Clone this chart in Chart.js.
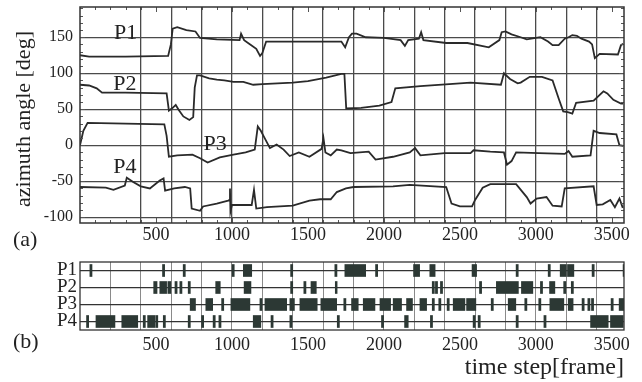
<!DOCTYPE html>
<html>
<head>
<meta charset="utf-8">
<script src="https://cdn.jsdelivr.net/npm/chart.js@4.4.1/dist/chart.umd.min.js"></script>
<style>
  html, body { margin: 0; padding: 0; background: #fff; }
  #wrap { position: relative; width: 642px; height: 382px; }
  canvas { position: absolute; left: 0; }
  #angleChart { top: 0; }
  #eventChart { top: 250px; }
  .tag { position: absolute; font: 22px "Liberation Serif", serif; color: #222; }
</style>
</head>
<body>
<div id="wrap">
  <canvas id="angleChart" width="642" height="250"></canvas>
  <canvas id="eventChart" width="642" height="132"></canvas>
  <div class="tag" style="left:13px; top:226px">(a)</div>
  <div class="tag" style="left:13px; top:328px">(b)</div>
</div>
<script>
// (a) azimuth angle of each person, [frame, deg]
const p1Angle = [[0,125],[60,123],[300,123],[580,124],[598,140],[610,162],[640,164],[700,160],[760,158],[790,149],[900,147],[1050,146],[1060,155],[1080,146],[1120,140],[1160,134],[1185,124],[1200,128],[1225,144],[1400,144],[1600,144],[1720,144],[1745,136],[1770,150],[1790,155],[1820,155],[1880,150],[2000,149],[2110,146],[2138,138],[2160,146],[2230,148],[2245,157],[2260,146],[2410,142],[2550,142],[2690,136],[2760,146],[2775,157],[2800,158],[2840,154],[2900,150],[2940,147],[3000,149],[3030,150],[3080,144],[3110,139],[3150,139],[3190,148],[3215,150],[3240,153],[3270,152],[3300,148],[3350,144],[3370,140],[3388,121],[3420,127],[3540,126],[3560,139],[3575,141]];
const p2Angle = [[0,84],[60,83],[110,79],[145,73],[300,73],[570,72],[585,48],[610,52],[630,56],[650,49],[680,40],[720,35],[745,39],[755,80],[770,97],[790,97],[850,93],[900,91],[950,90],[1010,88],[1075,88],[1140,84],[1200,85],[1300,86],[1400,87],[1500,89],[1620,94],[1720,99],[1740,99],[1752,51],[1850,52],[1970,55],[2050,60],[2075,79],[2240,82],[2430,85],[2570,87],[2770,84],[2790,100],[2830,92],[2880,86],[2900,87],[2960,95],[3040,95],[3110,90],[3150,65],[3180,47],[3210,46],[3240,44],[3265,59],[3380,62],[3445,75],[3470,72],[3510,63],[3560,58],[3575,58]];
const p3Angle = [[0,0],[22,20],[50,31],[300,30],[555,29],[570,13],[585,-16],[640,-14],[740,-13],[790,-18],[840,-24],[920,-17],[1010,-13],[1090,-10],[1150,-6],[1170,26],[1190,20],[1210,12],[1250,-4],[1294,1],[1340,-6],[1380,-15],[1440,-10],[1510,-16],[1590,-5],[1602,10],[1615,-10],[1650,-14],[1690,-6],[1720,-7],[1780,-11],[1900,-9],[1945,-20],[2060,-16],[2170,-10],[2205,-4],[2240,-14],[2400,-11],[2570,-11],[2590,-7],[2700,-9],[2790,-10],[2810,-27],[2840,-22],[2870,-10],[3020,-11],[3190,-12],[3215,-8],[3240,-16],[3360,-14],[3380,20],[3420,17],[3530,15],[3550,0],[3575,-1]];
const p4Angle = [[0,-58],[170,-59],[220,-62],[295,-56],[308,-45],[350,-51],[400,-57],[460,-60],[525,-49],[550,-46],[560,-63],[620,-60],[690,-58],[725,-60],[735,-88],[790,-91],[810,-85],[900,-81],[975,-77],[985,-76],[987,-60],[990,-92],[1000,-83],[1130,-83],[1145,-62],[1160,-88],[1230,-86],[1400,-84],[1510,-77],[1580,-75],[1650,-75],[1690,-65],[1750,-60],[1800,-58],[2060,-57],[2170,-55],[2410,-58],[2445,-81],[2500,-85],[2580,-85],[2600,-76],[2650,-59],[2700,-54],[2870,-54],[2940,-72],[2965,-81],[3005,-74],[3070,-72],[3110,-84],[3170,-85],[3190,-60],[3380,-57],[3400,-83],[3440,-82],[3490,-76],[3520,-86],[3550,-74],[3572,-87]];

// (b) detected events: single frames and [start, end] spans
const rows = ['P1', 'P2', 'P3', 'P4'];
const p1Ticks = [72, 550, 686, 1008, 1393, 1684, 1952, 2877, 3088, 3377, 3581];
const p1Spans = [[1075,1130],[1743,1880],[2195,2235],[2302,2337],[2580,2610],[3160,3200],[3208,3250]];
const p2Ticks = [632, 664, 719, 1393, 1480, 2325, 2346, 2379, 2636, 3037, 3190, 3240];
const p2Spans = [[485,507],[525,570],[578,598],[893,923],[1080,1125],[1520,1555],[1680,1692],[2740,2885],[2905,2980],[3090,3125]];
const p3Ticks = [939, 1191, 1388, 1404, 1743, 2325, 2368, 2423, 2713, 2934, 3026, 3311, 3349, 3373, 3502];
const p3Spans = [[725,760],[828,873],[993,1118],[1217,1360],[1447,1561],[1585,1689],[1787,1831],[1864,1941],[1974,2044],[2061,2116],[2149,2188],[2237,2281],[2456,2533],[2544,2605],[2818,2868],[3092,3184],[3213,3245],[3548,3582]];
const p4Ticks = [50, 423, 555, 719, 807, 883, 921, 1264, 1388, 1700, 1991, 2313, 2594, 2627, 2877, 3060];
const p4Spans = [[105,230],[275,380],[445,495],[500,512],[1140,1190],[2136,2160],[3360,3476],[3491,3575]];

const serif = '"Liberation Serif", "DejaVu Serif", serif';
const ink = '#2a2a2a';

function boxFrame(width) {
  return {
    id: 'boxFrame',
    afterDraw(chart) {
      const { ctx, chartArea: a } = chart;
      ctx.save();
      ctx.strokeStyle = '#333';
      ctx.lineWidth = width;
      ctx.strokeRect(a.left, a.top, a.right - a.left, a.bottom - a.top);
      ctx.restore();
    }
  };
}

// small inward ticks along the border of panel (a)
const minorTicks = {
  id: 'minorTicks',
  afterDraw(chart) {
    const { ctx, chartArea: a, scales: { x, y } } = chart;
    ctx.save();
    ctx.strokeStyle = '#555';
    ctx.lineWidth = 1;
    ctx.beginPath();
    for (let v = -100; v <= 190; v += 10) {
      const py = Math.round(y.getPixelForValue(v)) + 0.5;
      const len = v % 50 === 0 ? 5 : 3;
      ctx.moveTo(a.left, py); ctx.lineTo(a.left + len, py);
      ctx.moveTo(a.right, py); ctx.lineTo(a.right - len, py);
    }
    for (let f = 100; f < 3580; f += 100) {
      const px = Math.round(x.getPixelForValue(f)) + 0.5;
      const len = f % 500 === 0 ? 5 : 3;
      ctx.moveTo(px, a.top); ctx.lineTo(px, a.top + len);
      ctx.moveTo(px, a.bottom); ctx.lineTo(px, a.bottom - len);
    }
    ctx.stroke();
    ctx.restore();
  }
};

// person names beside the curves, plus the rotated y title
const nameTags = {
  id: 'nameTags',
  afterDatasetsDraw(chart) {
    const { ctx, chartArea: a, scales: { x, y } } = chart;
    ctx.save();
    ctx.font = '22px ' + serif;
    ctx.fillStyle = '#222';
    ctx.textAlign = 'center';
    ctx.textBaseline = 'middle';
    chart.data.datasets.forEach(ds => {
      ctx.fillText(ds.label, x.getPixelForValue(ds.tagAt[0]), y.getPixelForValue(ds.tagAt[1]));
    });
    ctx.translate(24, (a.top + a.bottom) / 2 + 4);
    ctx.rotate(-Math.PI / 2);
    ctx.fillText('azimuth angle [deg]', 0, 0);
    ctx.restore();
  }
};

function line(label, data, tagAt) {
  return { label, data, tagAt, borderColor: ink, borderWidth: 1.8, pointRadius: 0, tension: 0, fill: false };
}

new Chart(document.getElementById('angleChart'), {
  type: 'line',
  data: {
    datasets: [
      line('P1', p1Angle, [300, 155]),
      line('P2', p2Angle, [295, 85]),
      line('P3', p3Angle, [890, 1]),
      line('P4', p4Angle, [295, -31])
    ]
  },
  options: {
    responsive: false,
    animation: false,
    events: [],
    layout: { padding: { top: 7, right: 18, left: 0, bottom: 0 } },
    plugins: { legend: { display: false }, tooltip: { enabled: false } },
    scales: {
      x: {
        type: 'linear', min: 0, max: 3580,
        afterBuildTicks: s => { s.ticks = []; for (let v = 100; v <= 3500; v += 100) s.ticks.push({ value: v }); },
        afterFit: s => { s.height = 27; s.paddingLeft = 0; s.paddingRight = 0; },
        ticks: { autoSkip: false, maxRotation: 0, padding: 1, color: '#222', font: { family: serif, size: 18 },
                 callback: v => (v % 500 === 0 ? v : '') },
        grid: { drawTicks: false, lineWidth: 1.3,
                color: c => (c.tick && c.tick.value % 200 === 0 && c.tick.value >= 400 ? '#4a4a4a' : 'rgba(0,0,0,0)') },
        border: { display: false }
      },
      y: {
        min: -108, max: 192,
        afterBuildTicks: s => { s.ticks = [-100, -50, 0, 50, 100, 150].map(v => ({ value: v })); },
        afterFit: s => { s.width = 80; s.paddingTop = 0; s.paddingBottom = 0; },
        ticks: { padding: 7, color: '#222', font: { family: serif, size: 16 } },
        grid: { drawTicks: false, lineWidth: 1.3, color: '#4a4a4a' },
        border: { display: false }
      }
    }
  },
  plugins: [minorTicks, nameTags, boxFrame(1.5)]
});

function rowEvents(row, ticks, spans) {
  return ticks.map(f => ({ y: row, x: [f - 7, f + 7] }))
    .concat(spans.map(s => ({ y: row, x: s })));
}

new Chart(document.getElementById('eventChart'), {
  type: 'bar',
  data: {
    labels: rows,
    datasets: [{
      data: [].concat(
        rowEvents('P1', p1Ticks, p1Spans),
        rowEvents('P2', p2Ticks, p2Spans),
        rowEvents('P3', p3Ticks, p3Spans),
        rowEvents('P4', p4Ticks, p4Spans)
      ),
      backgroundColor: '#2c3834',
      borderWidth: 0,
      barThickness: 12
    }]
  },
  options: {
    indexAxis: 'y',
    responsive: false,
    animation: false,
    events: [],
    layout: { padding: { top: 12, right: 18, left: 0, bottom: 0 } },
    plugins: { legend: { display: false }, tooltip: { enabled: false } },
    scales: {
      x: {
        type: 'linear', min: 0, max: 3580,
        afterBuildTicks: s => { s.ticks = []; for (let v = 100; v <= 3500; v += 100) s.ticks.push({ value: v }); },
        afterFit: s => { s.height = 52; s.paddingLeft = 0; s.paddingRight = 0; },
        ticks: { autoSkip: false, maxRotation: 0, padding: 4, color: '#222', font: { family: serif, size: 18 },
                 callback: v => (v % 500 === 0 ? v : '') },
        grid: { drawTicks: false, lineWidth: 1,
                color: c => (c.tick && c.tick.value % 200 === 0 ? '#8a8a8a' : 'rgba(0,0,0,0)') },
        border: { display: false },
        title: { display: true, text: 'time step[frame]', align: 'end', color: '#222', font: { family: serif, size: 24 }, padding: 0 }
      },
      y: {
        type: 'category',
        afterFit: s => { s.width = 80; s.paddingTop = 0; s.paddingBottom = 0; },
        ticks: { autoSkip: false, padding: 3, color: '#222', font: { family: serif, size: 19 } },
        grid: { offset: false, drawTicks: false, lineWidth: 1.3, color: '#333' },
        border: { display: false }
      }
    }
  },
  plugins: [boxFrame(1.3)]
});
</script>
</body>
</html>
